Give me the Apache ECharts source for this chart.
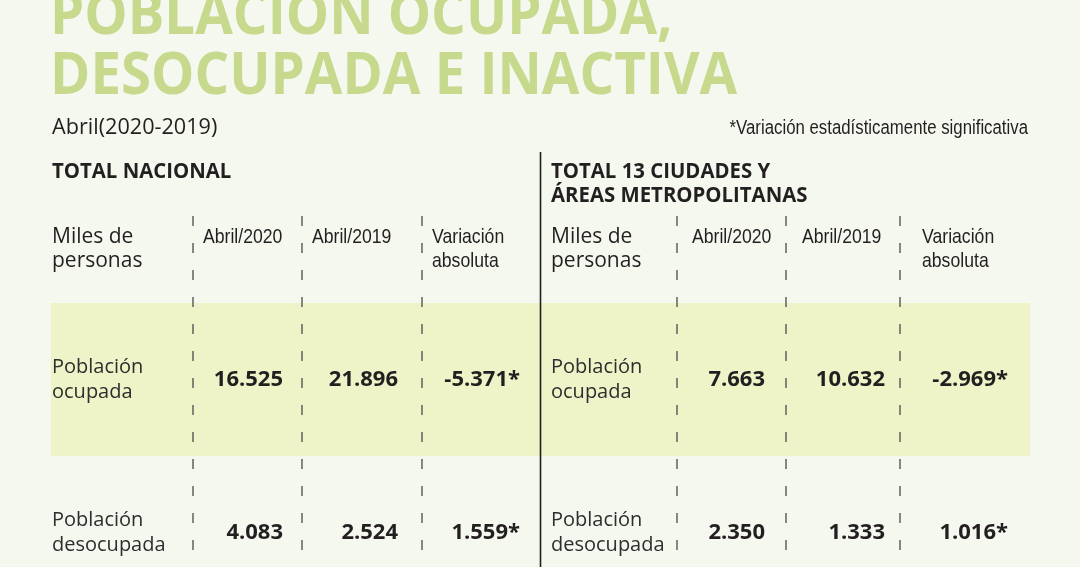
<!DOCTYPE html>
<html><head><meta charset="utf-8">
<script src="https://cdn.jsdelivr.net/npm/echarts@6/dist/echarts.min.js"></script>
<style>html,body{margin:0;padding:0;background:#f4f8ef}#c{width:1080px;height:567px}</style>
</head><body><div id="c"></div>
<script>
// ---- data ----
const titleLines = ['POBLACIÓN OCUPADA,', 'DESOCUPADA E INACTIVA'];
const periodLabel = 'Abril(2020-2019)';
const noteLabel = '*Variación estadísticamente significativa';
const nacionalTitle = ['TOTAL NACIONAL'];
const ciudadesTitle = ['TOTAL 13 CIUDADES Y', 'ÁREAS METROPOLITANAS'];
const unitLabel = ['Miles de', 'personas'];
const columnHeaders = [['Abril/2020'], ['Abril/2019'], ['Variación', 'absoluta']];
const rowLabels = [['Población', 'ocupada'], ['Población', 'desocupada']];
const nacional2020 = [16525, 4083];
const nacional2019 = [21896, 2524];
const nacionalVariacion = [-5371, 1559];
const nacionalSignificativa = [true, true];
const ciudades2020 = [7663, 2350];
const ciudades2019 = [10632, 1333];
const ciudadesVariacion = [-2969, 1016];
const ciudadesSignificativa = [true, true];

// ---- layout ----
const INK = '#231f20';
const TITLE_GREEN = '#c6d98c';
const BAND = '#eef3c8';
const SANS = '"Open Sans", "Noto Sans", sans-serif';
const NARROW = '"Liberation Sans", Arial, sans-serif';
const NARROW_SCALE = 0.84;
const ROW_HEIGHT = 153;          // px per table row
const GRID_TOP = 303;
const GRID_HEIGHT = 567 - GRID_TOP;
const tables = [
  { labelX: 52, headerX: [203, 312, 432], valueRight: [283, 398, 520], dividers: [193, 302, 422],
    title: nacionalTitle, cols: [nacional2020, nacional2019, nacionalVariacion], sig: nacionalSignificativa },
  { labelX: 551, headerX: [692, 802, 922], valueRight: [765, 885, 1008], dividers: [677, 786, 900],
    title: ciudadesTitle, cols: [ciudades2020, ciudades2019, ciudadesVariacion], sig: ciudadesSignificativa }
];

function fmt(n) {
  const s = Math.abs(n).toString().replace(/\B(?=(\d{3})+(?!\d))/g, '.');
  return (n < 0 ? '-' : '') + s;
}

const graphic = [];
function txt(x, y, text, font, size, weight, extra, align) {
  graphic.push(Object.assign({
    type: 'text', x: x, y: y, z: 10,
    style: { text: text, fill: INK, font: (weight || 'normal') + ' ' + size + 'px ' + font,
             verticalAlign: 'middle', align: align || 'left' }
  }, extra || {}));
}
// title
titleLines.forEach(function (t, i) {
  graphic.push({ type: 'text', x: 50, y: 17 + i * 60, z: 10, scaleX: 0.925,
    style: { text: t, fill: TITLE_GREEN, font: 'bold 59px ' + SANS, verticalAlign: 'middle', align: 'left' } });
});
txt(52, 128, periodLabel, SANS, 21, 'normal', { scaleX: 1.03 });
txt(1028, 128, noteLabel, NARROW, 20, 'normal', { scaleX: NARROW_SCALE }, 'right');

tables.forEach(function (tb) {
  tb.title.forEach(function (t, i) {
    txt(tb.labelX, 172 + i * 24, t, SANS, 21, 'bold', { scaleX: 0.97 });
  });
  unitLabel.forEach(function (t, i) { txt(tb.labelX, 237 + i * 24, t, SANS, 21); });
  columnHeaders.forEach(function (lines, c) {
    lines.forEach(function (t, i) { txt(tb.headerX[c], 237 + i * 24, t, NARROW, 21, 'normal', { scaleX: NARROW_SCALE }); });
  });
  tb.dividers.forEach(function (x) {
    graphic.push({ type: 'line', z: 10, shape: { x1: x, y1: 216, x2: x, y2: 567 },
      style: { stroke: '#4a4a4a', lineWidth: 1.3, lineDash: [10, 17] } });
  });
});
graphic.push({ type: 'line', z: 10, shape: { x1: 540.5, y1: 152, x2: 540.5, y2: 567 },
  style: { stroke: INK, lineWidth: 1.6 } });

const chart = echarts.init(document.getElementById('c'), null, { renderer: 'canvas' });
chart.setOption({
  backgroundColor: '#f4f8ef',
  animation: false,
  graphic: graphic,
  grid: { left: 51, right: 50, top: GRID_TOP, height: GRID_HEIGHT },
  xAxis: { type: 'value', min: 0, max: 1, show: false },
  yAxis: {
    type: 'value', inverse: true, min: 0, max: GRID_HEIGHT / ROW_HEIGHT, interval: 1,
    axisLine: { show: false }, axisTick: { show: false }, axisLabel: { show: false },
    splitLine: { show: false },
    splitArea: { show: true, areaStyle: { color: [BAND, 'rgba(0,0,0,0)'] } }
  },
  series: [{
    type: 'custom',
    data: rowLabels.map(function (_, i) { return [0, i + 0.5, i]; }),
    renderItem: function (params, api) {
      const i = api.value(2);
      const y = api.coord([0, api.value(1)])[1];
      const children = [];
      tables.forEach(function (tb) {
        children.push({ type: 'text', x: tb.labelX, y: y,
          style: { text: rowLabels[i].join('\n'), fill: '#2e2e2e', font: '20px ' + SANS,
                   lineHeight: 25, verticalAlign: 'middle', align: 'left' } });
        tb.cols.forEach(function (col, c) {
          let s = fmt(col[i]);
          if (c === 2 && tb.sig[i]) s += '*';
          children.push({ type: 'text', x: tb.valueRight[c], y: y,
            style: { text: s, fill: INK, font: 'bold 22px ' + SANS, verticalAlign: 'middle', align: 'right' } });
        });
      });
      return { type: 'group', children: children };
    }
  }]
});
</script></body></html>
